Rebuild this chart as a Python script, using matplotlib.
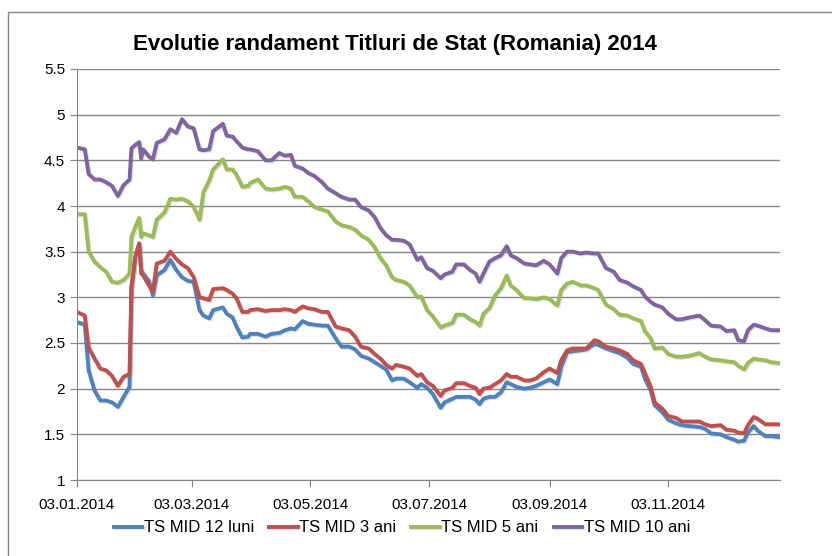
import numpy as np
import pandas as pd
import matplotlib
matplotlib.use('Agg')
import matplotlib.pyplot as plt
import matplotlib.dates as mdates
import matplotlib.patheffects as pe
from matplotlib.patches import Rectangle

plt.rcParams['font.family'] = ['Liberation Sans Narrow', 'Liberation Sans', 'DejaVu Sans']

dates = ['2014-01-03', '2014-01-07', '2014-01-09', '2014-01-12', '2014-01-15', '2014-01-18',
         '2014-01-21', '2014-01-24', '2014-01-27', '2014-01-30', '2014-01-31', '2014-02-02',
         '2014-02-04', '2014-02-05', '2014-02-06', '2014-02-09', '2014-02-11', '2014-02-13',
         '2014-02-17', '2014-02-20', '2014-02-23', '2014-02-26', '2014-03-01', '2014-03-04',
         '2014-03-07', '2014-03-09', '2014-03-12', '2014-03-14', '2014-03-19', '2014-03-21',
         '2014-03-24', '2014-03-26', '2014-03-29', '2014-04-01',
         '2014-04-02', '2014-04-06', '2014-04-10', '2014-04-13', '2014-04-17', '2014-04-20',
         '2014-04-23', '2014-04-25', '2014-04-29', '2014-05-02', '2014-05-05', '2014-05-09',
         '2014-05-12', '2014-05-16', '2014-05-19', '2014-05-23', '2014-05-26', '2014-05-29',
         '2014-06-02', '2014-06-05', '2014-06-08', '2014-06-11', '2014-06-14', '2014-06-16',
         '2014-06-20', '2014-06-23', '2014-06-27',
         '2014-06-29', '2014-07-02', '2014-07-05', '2014-07-09', '2014-07-11', '2014-07-15',
         '2014-07-17', '2014-07-21', '2014-07-24', '2014-07-27', '2014-07-29', '2014-07-31',
         '2014-08-03', '2014-08-06', '2014-08-09', '2014-08-12', '2014-08-14', '2014-08-17',
         '2014-08-21', '2014-08-24', '2014-08-27', '2014-08-31', '2014-09-03', '2014-09-07',
         '2014-09-09', '2014-09-12', '2014-09-15', '2014-09-19', '2014-09-22', '2014-09-26',
         '2014-09-28', '2014-10-02', '2014-10-06', '2014-10-09', '2014-10-13', '2014-10-16',
         '2014-10-20', '2014-10-22', '2014-10-25', '2014-10-27', '2014-10-31', '2014-11-03',
         '2014-11-07', '2014-11-10', '2014-11-14', '2014-11-19', '2014-11-22', '2014-11-25',
         '2014-11-30', '2014-12-03', '2014-12-07', '2014-12-09', '2014-12-12', '2014-12-14',
         '2014-12-17', '2014-12-19', '2014-12-23', '2014-12-26', '2014-12-30']

ts_12luni = [2.73, 2.70, 2.20, 1.98, 1.87, 1.87, 1.85, 1.80, 1.91, 2.02, 3.11, 3.44,
             3.59, 3.30, 3.26, 3.18, 3.02, 3.24, 3.30, 3.41, 3.30, 3.22, 3.18, 3.17,
             2.86, 2.80, 2.77, 2.86, 2.89, 2.82, 2.78, 2.68, 2.56, 2.57,
             2.60, 2.60, 2.57, 2.60, 2.61, 2.64, 2.66, 2.65, 2.74, 2.71, 2.70, 2.69,
             2.69, 2.55, 2.46, 2.46, 2.43, 2.36, 2.33, 2.29, 2.25, 2.21, 2.09, 2.11,
             2.11, 2.07, 2.01,
             2.05, 2.01, 1.94, 1.79, 1.85, 1.89, 1.91, 1.91, 1.91, 1.88, 1.83, 1.89,
             1.91, 1.91, 1.96, 2.07, 2.05, 2.02, 2.00, 2.01, 2.03, 2.07, 2.10, 2.05,
             2.24, 2.40, 2.41, 2.42, 2.43, 2.49,
             2.48, 2.44, 2.41, 2.39, 2.34, 2.27, 2.24, 2.11, 1.98, 1.82, 1.74, 1.66,
             1.62, 1.60, 1.59, 1.58, 1.56, 1.51, 1.50, 1.47, 1.44, 1.42, 1.43, 1.52,
             1.59, 1.54, 1.48, 1.48, 1.47]

ts_3ani = [2.84, 2.80, 2.45, 2.33, 2.22, 2.20, 2.14, 2.03, 2.13, 2.16, 3.11, 3.45,
           3.59, 3.26, 3.24, 3.13, 3.06, 3.37, 3.40, 3.50, 3.42, 3.36, 3.32, 3.22,
           3.00, 2.99, 2.97, 3.09, 3.10, 3.08, 3.04, 2.99, 2.84, 2.84,
           2.86, 2.87, 2.85, 2.86, 2.86, 2.87, 2.86, 2.84, 2.90, 2.88, 2.87, 2.84,
           2.84, 2.68, 2.66, 2.64, 2.57, 2.46, 2.44, 2.38, 2.33, 2.26, 2.22, 2.26,
           2.24, 2.22, 2.14,
           2.16, 2.07, 2.03, 1.92, 1.98, 2.01, 2.06, 2.06, 2.03, 2.01, 1.94, 2.00,
           2.01, 2.05, 2.09, 2.16, 2.13, 2.13, 2.09, 2.09, 2.11, 2.18, 2.22, 2.17,
           2.31, 2.42, 2.44, 2.44, 2.44, 2.53,
           2.52, 2.46, 2.44, 2.42, 2.38, 2.31, 2.27, 2.17, 2.02, 1.85, 1.78, 1.70,
           1.68, 1.64, 1.64, 1.64, 1.61, 1.59, 1.60, 1.55, 1.54, 1.52, 1.51, 1.60,
           1.69, 1.67, 1.61, 1.61, 1.61]

ts_5ani = [3.91, 3.91, 3.50, 3.39, 3.33, 3.28, 3.17, 3.16, 3.19, 3.26, 3.66, 3.77,
           3.87, 3.66, 3.70, 3.68, 3.66, 3.85, 3.93, 4.08, 4.07, 4.08, 4.05, 3.99,
           3.85, 4.15, 4.28, 4.40, 4.51, 4.40, 4.40, 4.34, 4.21, 4.22,
           4.25, 4.29, 4.19, 4.18, 4.19, 4.21, 4.19, 4.10, 4.10, 4.05, 3.99, 3.96,
           3.94, 3.83, 3.79, 3.77, 3.74, 3.68, 3.63, 3.55, 3.43, 3.35, 3.22, 3.19,
           3.17, 3.13, 3.00,
           3.01, 2.86, 2.79, 2.67, 2.69, 2.72, 2.81, 2.81, 2.76, 2.73, 2.69, 2.82,
           2.88, 3.02, 3.10, 3.24, 3.13, 3.08, 2.99, 2.99, 2.98, 3.00, 2.98, 2.91,
           3.08, 3.15, 3.17, 3.13, 3.13, 3.10,
           3.08, 2.92, 2.87, 2.81, 2.80, 2.77, 2.74, 2.63, 2.55, 2.44, 2.45, 2.38,
           2.35, 2.35, 2.36, 2.39, 2.35, 2.32, 2.31, 2.30, 2.29, 2.25, 2.21, 2.28,
           2.33, 2.32, 2.31, 2.29, 2.28]

ts_10ani = [4.64, 4.62, 4.35, 4.29, 4.29, 4.26, 4.22, 4.11, 4.23, 4.29, 4.63, 4.67,
            4.70, 4.52, 4.62, 4.54, 4.51, 4.69, 4.73, 4.84, 4.80, 4.95, 4.87, 4.85,
            4.62, 4.61, 4.62, 4.82, 4.90, 4.77, 4.76, 4.71, 4.64, 4.62,
            4.62, 4.60, 4.50, 4.50, 4.58, 4.55, 4.56, 4.44, 4.41, 4.36, 4.33, 4.26,
            4.19, 4.14, 4.10, 4.07, 4.07, 3.99, 3.95, 3.88, 3.76, 3.68, 3.63, 3.63,
            3.62, 3.58, 3.41,
            3.44, 3.32, 3.29, 3.21, 3.25, 3.28, 3.36, 3.36, 3.30, 3.26, 3.17, 3.26,
            3.39, 3.43, 3.46, 3.56, 3.46, 3.43, 3.37, 3.36, 3.35, 3.40, 3.36, 3.26,
            3.43, 3.50, 3.50, 3.48, 3.49, 3.48,
            3.48, 3.32, 3.28, 3.19, 3.16, 3.12, 3.08, 3.01, 2.95, 2.92, 2.89, 2.82,
            2.76, 2.76, 2.78, 2.80, 2.75, 2.69, 2.68, 2.63, 2.64, 2.53, 2.52, 2.64,
            2.70, 2.69, 2.66, 2.64, 2.64]

labels = ['TS MID 12 luni', 'TS MID 3 ani', 'TS MID 5 ani', 'TS MID 10 ani']
colors = ['#4F81BD', '#C0504D', '#9BBB59', '#8064A2']

x = pd.to_datetime(dates)

fig = plt.figure(figsize=(8.32, 5.56), dpi=100)
ax = fig.add_axes([77/832, 1-480/556, 703/832, 411/556])

shadow = [pe.SimpleLineShadow(offset=(0.8, -0.8), alpha=0.25, shadow_color='#808080'), pe.Normal()]
for ys, lab, c in zip([ts_12luni, ts_3ani, ts_5ani, ts_10ani], labels, colors):
    ax.plot(x, ys, color=c, lw=2.8, label=lab, path_effects=shadow, solid_joinstyle='round')

ax.set_ylim(1, 5.5)
ax.set_yticks(np.arange(1, 5.51, 0.5))
ax.set_yticklabels(['1', '1.5', '2', '2.5', '3', '3.5', '4', '4.5', '5', '5.5'])
ax.set_xlim(pd.Timestamp('2014-01-03'), pd.Timestamp('2014-12-30 12:00'))
ax.set_xticks(pd.to_datetime(['2014-01-03', '2014-03-03', '2014-05-03',
                              '2014-07-03', '2014-09-03', '2014-11-03']))
ax.xaxis.set_major_formatter(mdates.DateFormatter('%d.%m.%Y'))

ax.grid(axis='y', color='#868686', lw=1)
ax.set_axisbelow(True)
for s in ['top', 'right']:
    ax.spines[s].set_visible(False)
for s in ['left', 'bottom']:
    ax.spines[s].set_color('#868686')
ax.tick_params(axis='both', colors='#868686', labelcolor='black', labelsize=11, length=5)
ax.tick_params(axis='x', pad=8)

fig.text(395/832, 1-45/556, 'Evolutie randament Titluri de Stat (Romania) 2014',
         ha='center', va='center', fontsize=16, fontweight='bold')

fig.legend(loc='center', bbox_to_anchor=(402/832, 1-528/556), ncol=4, frameon=False,
           fontsize=12, handlelength=1.7, handletextpad=0.1, columnspacing=0.9)

fig.patches.append(Rectangle((8/832, -0.1), 1.2, 1-12/556+0.1, transform=fig.transFigure,
                             fill=False, edgecolor='#868686', lw=1))

fig.savefig('out.png', dpi=100)
